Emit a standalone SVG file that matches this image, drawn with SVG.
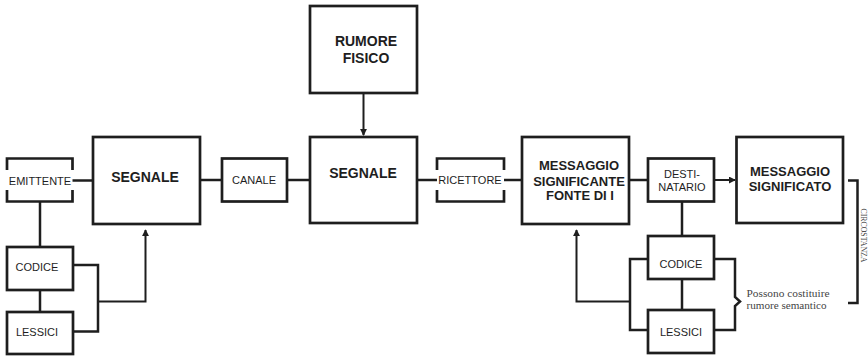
<svg xmlns="http://www.w3.org/2000/svg" width="868" height="356" viewBox="0 0 868 356">
<defs>
<style>
.box{fill:#fff;stroke:#1e1e1e;stroke-width:2.7}
.br{fill:none;stroke:#1e1e1e;stroke-width:2.7}
.ln{fill:none;stroke:#1e1e1e;stroke-width:2.5}
.ar{fill:none;stroke:#1e1e1e;stroke-width:2}
.t{font-family:"Liberation Sans",Arial,sans-serif;font-size:11px;fill:#1e1e1e;text-anchor:middle}
.b{font-weight:bold;font-size:13px}
.s{font-family:"Liberation Serif","Times New Roman",serif;font-size:10.5px;fill:#444}
</style>
<marker id="ah" viewBox="0 0 8 8" refX="7" refY="4" markerWidth="7" markerHeight="7" markerUnits="userSpaceOnUse" orient="auto">
<path d="M0,0 L8,4 L0,8 z" fill="#1e1e1e"/>
</marker>
</defs>
<rect width="868" height="356" fill="#fff"/>
<g id="connectors">
<path class="ln" d="M72.5,180.5 H93"/>
<path class="ln" d="M200,180 H222"/>
<path class="ln" d="M287,180 H310"/>
<path class="ln" d="M417,180 H437"/>
<path class="ln" d="M504,180 H522"/>
<path class="ln" d="M629,180 H648"/>
<path class="ar" d="M714,180 H735" marker-end="url(#ah)"/>
<path class="ar" d="M363.5,93 V135" marker-end="url(#ah)"/>
<path class="ln" d="M40,201.5 V247"/>
<path class="ln" d="M40,290 V312"/>
<path class="ln" d="M73,265 H98 V331.5 H73"/>
<path class="ar" d="M98,301.5 H145.5 V230" marker-end="url(#ah)"/>
<path class="ln" d="M682,201.5 V236"/>
<path class="ln" d="M682,279 V310"/>
<path class="ln" d="M648,259 H630 V330 H648"/>
<path class="ar" d="M630,301.5 H576.5 V230" marker-end="url(#ah)"/>
<path class="ln" d="M714,259 H735 V297 L740,301.5 L735,306 V330 H714"/>
<path class="ln" d="M848,180.5 H857.5 V303 H848"/>
</g>
<g id="emittente">
<path class="br" d="M7,170 V158.5 H72.5 V170 M7,190 V201.5 H72.5 V190"/>
<text class="t" x="40" y="185">EMITTENTE</text>
</g>
<g id="segnale1">
<rect class="box" x="93" y="137" width="107" height="87"/>
<text class="t b" x="145" y="182" style="font-size:14px">SEGNALE</text>
</g>
<g id="canale">
<rect class="box" x="222" y="158.5" width="65" height="43"/>
<text class="t" x="254" y="184">CANALE</text>
</g>
<g id="rumore">
<rect class="box" x="310" y="6" width="107" height="87"/>
<text class="t b" x="366" y="46" style="font-size:14px">RUMORE</text>
<text class="t b" x="366" y="62.5" style="font-size:14px">FISICO</text>
</g>
<g id="segnale2">
<rect class="box" x="310" y="137" width="107" height="86"/>
<text class="t b" x="363" y="178" style="font-size:14px">SEGNALE</text>
</g>
<g id="ricettore">
<path class="br" d="M437,170 V158.5 H504 V170 M437,190 V201.5 H504 V190"/>
<text class="t" x="470" y="184">RICETTORE</text>
</g>
<g id="messaggio-significante">
<rect class="box" x="522" y="137" width="107" height="87"/>
<text class="t b" x="579" y="170">MESSAGGIO</text>
<text class="t b" x="579" y="185.5">SIGNIFICANTE</text>
<text class="t b" x="580" y="199.5">FONTE DI I</text>
</g>
<g id="destinatario">
<rect class="box" x="648" y="158.5" width="66" height="43"/>
<text class="t" x="682" y="177.5">DESTI-</text>
<text class="t" x="682" y="190.5">NATARIO</text>
</g>
<g id="messaggio-significato">
<rect class="box" x="736.5" y="137" width="106.5" height="86"/>
<text class="t b" x="790" y="175.5">MESSAGGIO</text>
<text class="t b" x="790" y="190.5">SIGNIFICATO</text>
</g>
<g id="codice-left">
<rect class="box" x="7" y="247" width="66" height="43"/>
<text class="t" x="37" y="271">CODICE</text>
</g>
<g id="lessici-left">
<rect class="box" x="7" y="312" width="66" height="42"/>
<text class="t" x="37" y="336">LESSICI</text>
</g>
<g id="codice-right">
<rect class="box" x="648" y="236" width="66" height="43"/>
<text class="t" x="681" y="268">CODICE</text>
</g>
<g id="lessici-right">
<rect class="box" x="648" y="310" width="66" height="43"/>
<text class="t" x="681" y="336">LESSICI</text>
</g>
<g id="note">
<text class="s" x="746.5" y="296.5" textLength="83" lengthAdjust="spacingAndGlyphs">Possono costituire</text>
<text class="s" x="746.5" y="308.5" textLength="80" lengthAdjust="spacingAndGlyphs">rumore semantico</text>
</g>
<g id="circostanza">
<text class="s" transform="translate(860.5,235.5) rotate(90)" text-anchor="middle" style="font-size:9px" textLength="54" lengthAdjust="spacingAndGlyphs">CIRCOSTANZA</text>
</g>
</svg>
